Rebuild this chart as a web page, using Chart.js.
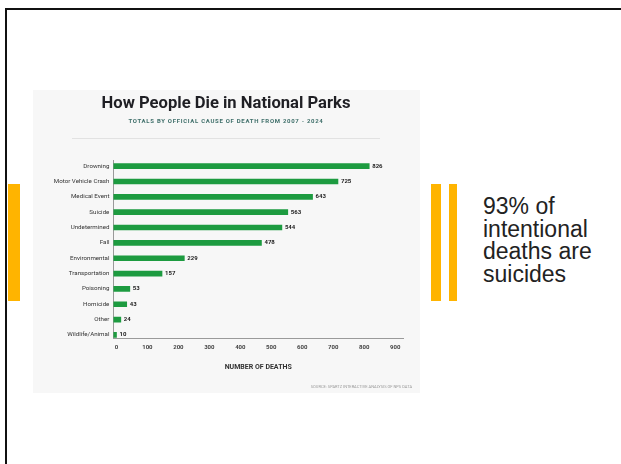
<!DOCTYPE html>
<html>
<head>
<meta charset="utf-8">
<script src="https://cdn.jsdelivr.net/npm/chart.js@4.4.1/dist/chart.umd.min.js"></script>
<style>
  html, body { margin: 0; padding: 0; background: #fff; }
  body { width: 621px; height: 464px; position: relative; overflow: hidden; font-family: "Liberation Sans", Arial, sans-serif; }
  #frame { position: absolute; left: 5px; top: 8px; width: 700px; height: 600px; border-left: 2px solid #111; border-top: 2px solid #111; }
  .bar { position: absolute; top: 184px; height: 117px; background: #ffb400; }
  #panel { position: absolute; left: 33px; top: 90px; width: 387px; height: 303px; background: #f7f7f7; }
  #note { position: absolute; left: 483px; top: 195px; font-size: 23px; line-height: 22.7px; color: #222; }
</style>
</head>
<body>
<div id="frame"></div>
<div class="bar" style="left:8px;width:12px"></div>
<div class="bar" style="left:431px;width:10px"></div>
<div class="bar" style="left:449px;width:8px"></div>
<div id="panel"><canvas id="myChart" width="387" height="303"></canvas></div>
<div id="note">93% of<br>intentional<br>deaths are<br>suicides</div>

<script>
// chart values
let causes = ["Drowning", "Motor Vehicle Crash", "Medical Event", "Suicide", "Undetermined", "Fall",
              "Environmental", "Transportation", "Poisoning", "Homicide", "Other", "Wildlife/Animal"];
let deaths = [826, 725, 643, 563, 544, 478, 229, 157, 53, 43, 24, 10];
let xTicks = [0, 100, 200, 300, 400, 500, 600, 700, 800, 900];

let chartTitle = "How People Die in National Parks";
let chartSubtitle = "TOTALS BY OFFICIAL CAUSE OF DEATH FROM 2007 - 2024";
let sourceText = "SOURCE: SPARTZ INTERACTIVE ANALYSIS OF NPS DATA";

// titles, separator line and source note
let decorations = {
    id: 'decorations',
    afterDraw(chart) {
        let c = chart.ctx;
        c.save();
        c.textAlign = 'center';
        c.textBaseline = 'middle';
        c.fillStyle = '#1f1f24';
        c.font = 'bold 16.6px Roboto';
        c.fillText(chartTitle, 193, 14);
        c.fillStyle = '#3f6f6a';
        c.font = 'bold 6px Roboto';
        c.letterSpacing = '0.7px';
        c.fillText(chartSubtitle, 193, 31);
        c.letterSpacing = '0px';
        c.strokeStyle = '#e2e2e2';
        c.lineWidth = 1;
        c.beginPath();
        c.moveTo(39, 48.5);
        c.lineTo(347, 48.5);
        c.stroke();
        c.textAlign = 'right';
        c.fillStyle = '#9a9a9a';
        c.font = '4px Roboto';
        c.fillText(sourceText, 379, 297);
        c.restore();
    }
};

// numbers at the end of each bar
let valueLabels = {
    id: 'valueLabels',
    afterDatasetsDraw(chart) {
        let c = chart.ctx;
        let meta = chart.getDatasetMeta(0);
        c.save();
        c.font = 'bold 6px Roboto';
        c.fillStyle = '#222';
        c.textAlign = 'left';
        c.textBaseline = 'middle';
        meta.data.forEach(function (bar, i) {
            c.fillText(deaths[i], bar.x + 3, bar.y);
        });
        c.restore();
    }
};

var ctx = document.getElementById('myChart').getContext('2d');
var myChart = new Chart(ctx, {
    type: 'bar',
    data: {
        datasets: [{
            data: deaths.map(function (d, i) { return { x: d, y: i }; }),
            backgroundColor: '#1d9b40',
            borderWidth: 0,
            barThickness: 5
        }]
    },
    options: {
        indexAxis: 'y',
        responsive: false,
        animation: false,
        layout: { padding: { top: 70, right: 17, left: 0, bottom: 0 } },
        plugins: {
            legend: { display: false },
            tooltip: { enabled: false }
        },
        scales: {
            x: {
                type: 'linear',
                bounds: 'data',
                min: 0,
                max: 935,
                grid: { display: false, drawTicks: false },
                border: { display: true, color: '#9a9a9a', width: 1 },
                afterBuildTicks: function (axis) { axis.ticks = xTicks.map(function (v) { return { value: v }; }); },
                afterFit: function (axis) { axis.height = 55; },
                ticks: {
                    padding: 6,
                    labelOffset: 3,
                    color: '#444',
                    font: { family: 'Roboto', size: 6, weight: 'bold' }
                },
                title: {
                    display: true,
                    text: 'NUMBER OF DEATHS',
                    color: '#333',
                    padding: { top: 0, bottom: 22 },
                    font: { family: 'Roboto', size: 7, weight: 'bold' }
                }
            },
            y: {
                type: 'linear',
                bounds: 'data',
                offset: false,
                reverse: true,
                min: -0.4,
                max: 11.2,
                grid: { display: false, drawTicks: false, offset: false },
                border: { display: true, color: '#9a9a9a', width: 1 },
                afterBuildTicks: function (axis) { axis.ticks = causes.map(function (c, i) { return { value: i }; }); },
                afterFit: function (axis) { axis.width = 80.4; },
                ticks: {
                    padding: 4,
                    color: '#333',
                    font: { family: 'Roboto', size: 6.2 },
                    callback: function (v) { return causes[v]; }
                }
            }
        }
    },
    plugins: [decorations, valueLabels]
});
</script>
</body>
</html>
